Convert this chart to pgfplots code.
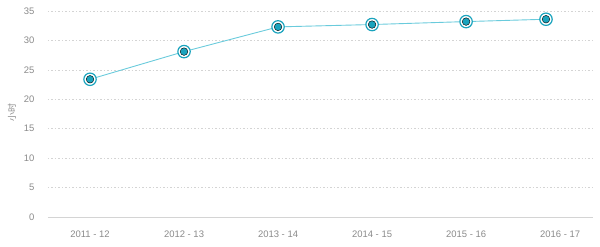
\documentclass[border=0pt]{standalone}
\usepackage{pgfplots}
\pgfplotsset{compat=1.18}
\usepackage{fontspec}
\setmainfont{Liberation Sans}
\newfontfamily\cjk{Noto Sans CJK SC}
\definecolor{teal1}{HTML}{1AA3BD}
\definecolor{line1}{HTML}{6ACBDC}
\definecolor{gridc}{HTML}{D4D4D4}
\definecolor{txt}{HTML}{8A8A8A}
\begin{document}
\begin{tikzpicture}
\path[use as bounding box] (-48bp,-30bp) rectangle (552bp,217bp);
\begin{axis}[
  at={(0,0)}, anchor=south west,
  scale only axis, width=545bp, height=206bp,
  xmin=-0.447, xmax=5.35, ymin=0, ymax=35,
  xtick={0,1,2,3,4,5},
  xticklabels={2011 - 12,2012 - 13,2013 - 14,2014 - 15,2015 - 16,2016 - 17},
  ytick={0,5,10,15,20,25,30,35},
  axis x line*=bottom, axis y line*=left,
  x axis line style={draw=gridc, line width=0.8pt, -},
  y axis line style={draw=none},
  major tick length=0pt,
  ymajorgrids, grid style={draw=gridc, dash pattern=on 1.5pt off 2pt, line width=0.7pt},
  tick label style={font=\fontsize{9.5}{11}\selectfont, text=txt},
  /pgf/number format/assume math mode=true,
  xticklabel style={yshift=-10bp},
  yticklabel style={anchor=east, xshift=-10bp},
  ylabel={\cjk 小时}, ylabel style={font=\fontsize{9}{10}\selectfont, text=txt, at={(-36bp,104bp)}, anchor=center, rotate=0},
  clip=false,
]
\addplot[line1, line width=0.9pt, mark=*, mark size=6.2bp, mark options={draw=teal1, fill=white, line width=1.2pt}]
  coordinates {(0,23.4) (1,28.1) (2,32.3) (3,32.7) (4,33.2) (4.85,33.6)};
\addplot[draw=none, mark=*, mark size=3.8bp, mark options={draw=none, fill=teal1}]
  coordinates {(0,23.4) (1,28.1) (2,32.3) (3,32.7) (4,33.2) (4.85,33.6)};
\end{axis}
\end{tikzpicture}
\end{document}
